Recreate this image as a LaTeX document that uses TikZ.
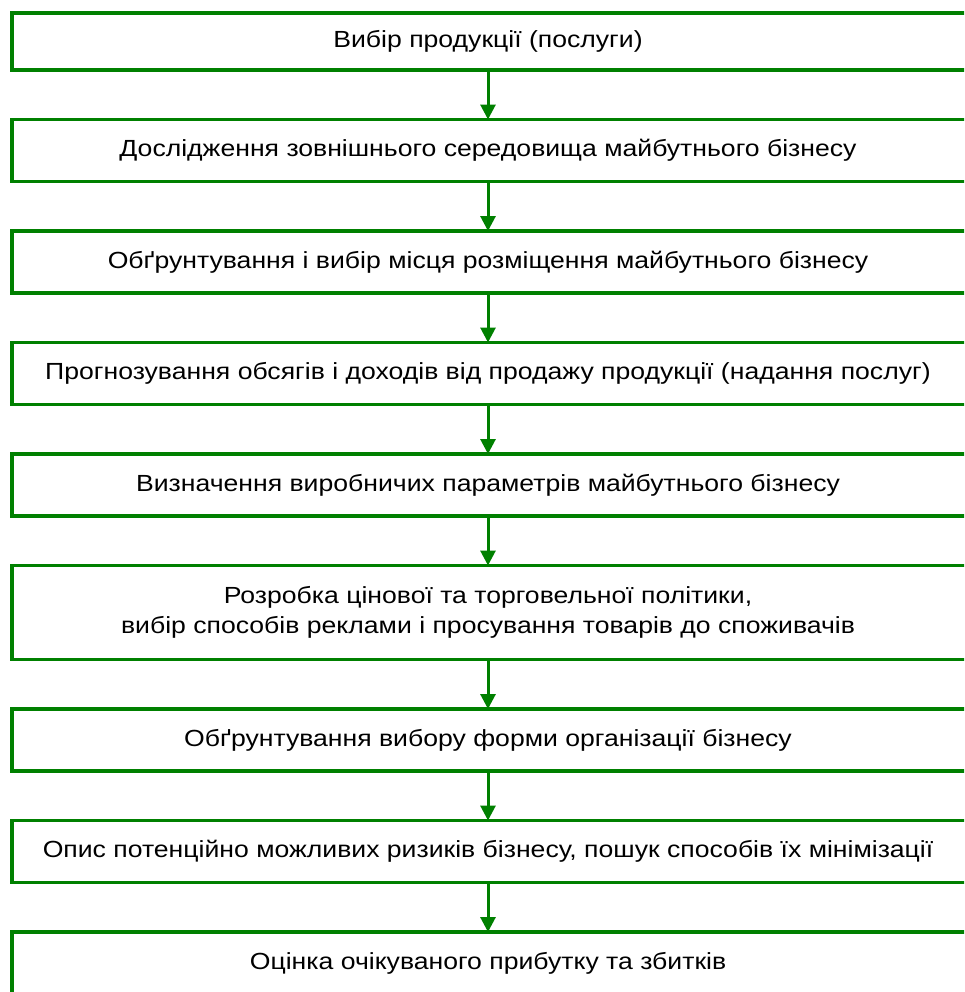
\documentclass[tikz,border=0pt]{standalone}
\usepackage{fontspec}
\setmainfont{Liberation Sans}[FakeStretch=1.14]
\usepackage{xcolor}
\usetikzlibrary{
  arrows.meta,
  positioning,
}
\definecolor{flowgreen}{RGB}{0,128,0}
\tikzset{
  stepbox/.style={
    rectangle, draw=none, outer sep=0pt, inner sep=0pt,
    minimum width=714pt, minimum height=46.5pt, align=center,
    font=\fontsize{17.5}{22.5}\selectfont
  },
  framepath/.style={draw=flowgreen, line width=2.6pt},
  flowarrow/.style={-{Triangle[length=11.25pt, width=11.25pt]}, line width=2.25pt, flowgreen},
}

\begin{document}
\begin{tikzpicture}[node distance=37.125pt]

  % ── Page frame ──
  \clip (0,0) rectangle (723pt,-744pt);

  % ── Step boxes ──
  \node[stepbox, minimum height=42.75pt, anchor=north west] (b1) at (9pt,-9.75pt)
    {Вибір продукції (послуги)};
  \node[stepbox, below=of b1] (b2)
    {Дослідження зовнішнього середовища майбутнього бізнесу};
  \node[stepbox, below=of b2] (b3)
    {Обґрунтування і вибір місця розміщення майбутнього бізнесу};
  \node[stepbox, below=of b3] (b4)
    {Прогнозування обсягів і доходів від продажу продукції (надання послуг)};
  \node[stepbox, below=of b4] (b5)
    {Визначення виробничих параметрів майбутнього бізнесу};
  \node[stepbox, minimum height=70.5pt, below=of b5] (b6)
    {Розробка цінової та торговельної політики,\\вибір способів реклами і просування товарів до споживачів};
  \node[stepbox, below=of b6] (b7)
    {Обґрунтування вибору форми організації бізнесу};
  \node[stepbox, below=of b7] (b8)
    {Опис потенційно можливих ризиків бізнесу, пошук способів їх мінімізації};
  \node[stepbox, below=of b8] (b9)
    {Оцінка очікуваного прибутку та збитків};

  % ── Open frames (right side runs off the page) ──
  \foreach \i in {1,...,8}
    \draw[framepath] ([xshift=40pt]b\i.north east) -- (b\i.north west)
      -- (b\i.south west) -- ([xshift=40pt]b\i.south east);
  \draw[framepath] ([xshift=40pt]b9.north east) -- (b9.north west)
    -- ([yshift=-20pt]b9.south west);

  % ── Arrows ──
  \draw[flowarrow] (b1.south) -- (b2.north);
  \draw[flowarrow] (b2.south) -- (b3.north);
  \draw[flowarrow] (b3.south) -- (b4.north);
  \draw[flowarrow] (b4.south) -- (b5.north);
  \draw[flowarrow] (b5.south) -- (b6.north);
  \draw[flowarrow] (b6.south) -- (b7.north);
  \draw[flowarrow] (b7.south) -- (b8.north);
  \draw[flowarrow] (b8.south) -- (b9.north);

\end{tikzpicture}
\end{document}
